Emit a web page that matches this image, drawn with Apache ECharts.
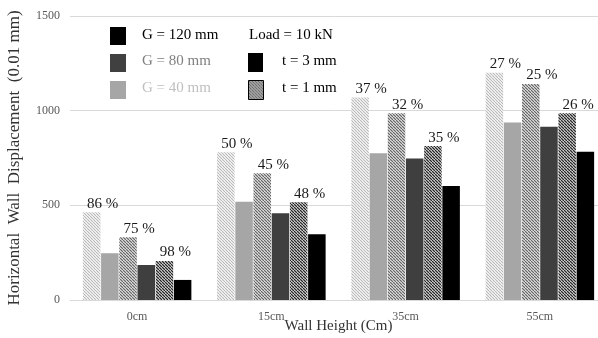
<!DOCTYPE html>
<html>
<head>
<meta charset="utf-8">
<script src="https://cdn.jsdelivr.net/npm/echarts@6/dist/echarts.min.js"></script>
<style>
html,body{margin:0;padding:0;background:#fff;}
#chart{width:598px;height:338px;}
</style>
</head>
<body>
<div id="chart"></div>
<script>
const categories = ['0cm', '15cm', '35cm', '55cm'];
const yTicks = [0, 500, 1000, 1500];
const g40t1 = [463, 780, 1070, 1200];
const g40t3 = [247, 519, 775, 938];
const g80t1 = [331, 669, 986, 1141];
const g80t3 = [185, 458, 748, 915];
const g120t1 = [206, 516, 813, 986];
const g120t3 = [106, 347, 602, 783];
const labels40 = ['86 %', '50 %', '37 %', '27 %'];
const labels80 = ['75 %', '45 %', '32 %', '25 %'];
const labels120 = ['98 %', '48 %', '35 %', '26 %'];

const SERIF = '"Liberation Serif", "DejaVu Serif", serif';

function makePattern(lineColor, bg, s, lw) {
  const c = document.createElement('canvas');
  c.width = s; c.height = s;
  const ctx = c.getContext('2d');
  ctx.fillStyle = bg; ctx.fillRect(0, 0, s, s);
  ctx.strokeStyle = lineColor; ctx.lineWidth = lw;
  ctx.beginPath();
  for (let k = -1; k <= 1; k++) { ctx.moveTo(k * s, 0); ctx.lineTo(k * s + s, s); }
  ctx.stroke();
  return { image: c, repeat: 'repeat' };
}
const patLight = makePattern('#b8b8b8', '#ffffff', 3, 1.2);
const patMed = makePattern('#666666', '#ffffff', 3, 1.3);
const patDark = makePattern('#262626', '#ffffff', 3, 1.4);
const patLegend = makePattern('#222222', '#ffffff', 3, 1.2);

function lbl(arr) {
  return {
    show: true, position: 'top', distance: 1, offset: [11, 0],
    fontFamily: SERIF, fontSize: 15, color: '#1a1a1a',
    formatter: p => arr[p.dataIndex]
  };
}

function bar(name, data, color, label) {
  const s = {
    name, type: 'bar', data, barWidth: 17.5, barGap: '4%',
    itemStyle: { color }, z: 2
  };
  if (label) s.label = label;
  return s;
}

const chart = echarts.init(document.getElementById('chart'), null, { renderer: 'canvas' });
chart.setOption({
  animation: false,
  backgroundColor: '#fff',
  grid: { left: 70, right: -9, top: 16, bottom: 38, containLabel: false, outerBoundsMode: 'none' },
  xAxis: {
    type: 'category', data: categories,
    axisLine: { lineStyle: { color: '#d9d9d9', width: 1 } },
    axisTick: { show: false },
    axisLabel: { fontFamily: SERIF, fontSize: 12, color: '#595959', margin: 11 },
    name: 'Wall Height (Cm)', nameLocation: 'middle', nameGap: 19, nameMoveOverlap: false,
    nameTextStyle: { fontFamily: SERIF, fontSize: 15, color: '#333' }
  },
  yAxis: {
    type: 'value', min: yTicks[0], max: yTicks[yTicks.length - 1], interval: 500,
    axisLine: { show: false }, axisTick: { show: false },
    splitLine: { lineStyle: { color: '#d9d9d9', width: 1 } },
    axisLabel: { fontFamily: SERIF, fontSize: 12, color: '#595959', margin: 10, formatter: v => String(v) },
    name: 'Horizontal  Wall  Displacement  (0.01 mm)', nameLocation: 'middle', nameGap: 47, nameMoveOverlap: false,
    nameTextStyle: { fontFamily: SERIF, fontSize: 17, color: '#333' }
  },
  series: [
    bar('G40 t1', g40t1, patLight, lbl(labels40)),
    bar('G40 t3', g40t3, '#a6a6a6'),
    bar('G80 t1', g80t1, patMed, lbl(labels80)),
    bar('G80 t3', g80t3, '#3f3f3f'),
    bar('G120 t1', g120t1, patDark, lbl(labels120)),
    bar('G120 t3', g120t3, '#000000')
  ],
  graphic: [
    { type: 'rect', left: 110, top: 27, shape: { width: 16, height: 18 }, style: { fill: '#000' } },
    { type: 'rect', left: 110, top: 54, shape: { width: 16, height: 18 }, style: { fill: '#404040' } },
    { type: 'rect', left: 110, top: 81, shape: { width: 16, height: 18 }, style: { fill: '#a6a6a6' } },
    { type: 'text', left: 142, top: 28, style: { text: 'G = 120 mm', font: '15px ' + SERIF, fill: '#000' } },
    { type: 'text', left: 142, top: 54, style: { text: 'G = 80 mm', font: '15px ' + SERIF, fill: '#7f7f7f' } },
    { type: 'text', left: 142, top: 81, style: { text: 'G = 40 mm', font: '15px ' + SERIF, fill: '#bfbfbf' } },
    { type: 'text', left: 249, top: 28, style: { text: 'Load = 10 kN', font: '15px ' + SERIF, fill: '#000' } },
    { type: 'rect', left: 248, top: 53, shape: { width: 15, height: 19 }, style: { fill: '#000' } },
    { type: 'rect', left: 248, top: 80, shape: { width: 15, height: 19 }, style: { fill: patLegend, stroke: '#000', lineWidth: 1 } },
    { type: 'text', left: 282, top: 54, style: { text: 't = 3 mm', font: '15px ' + SERIF, fill: '#000' } },
    { type: 'text', left: 282, top: 81, style: { text: 't = 1 mm', font: '15px ' + SERIF, fill: '#000' } }
  ]
});
</script>
</body>
</html>
